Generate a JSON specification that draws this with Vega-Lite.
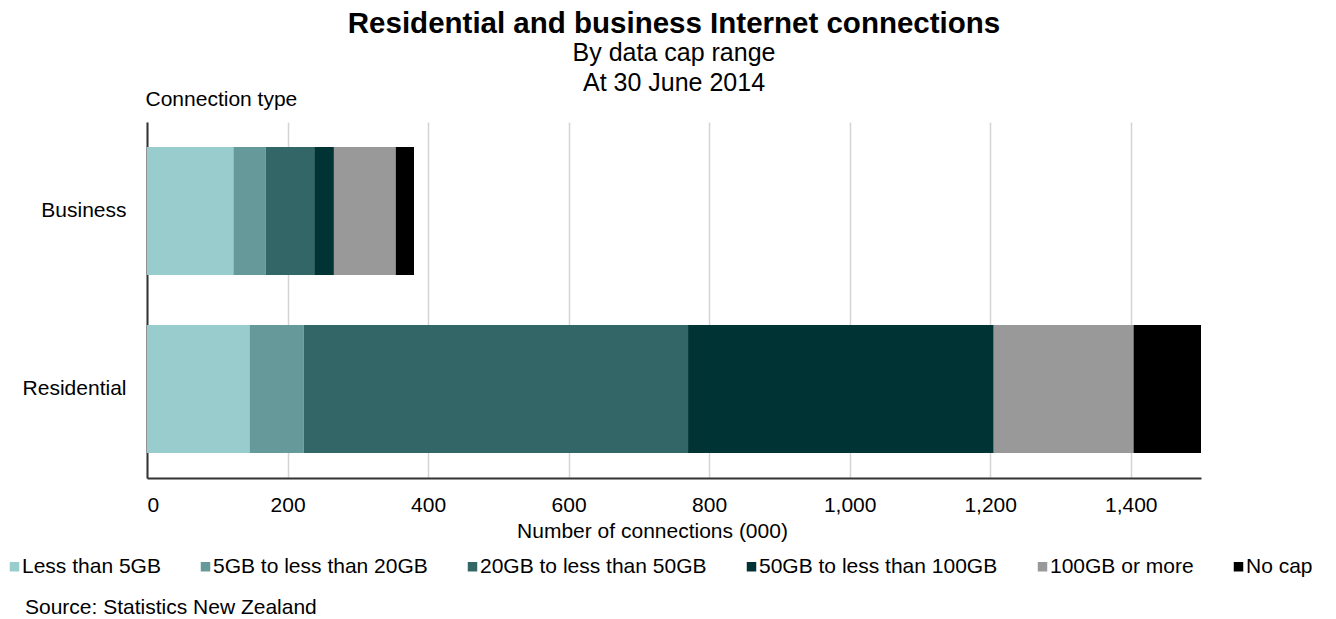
{
  "$schema": "https://vega.github.io/schema/vega-lite/v6.json",
  "width": 1054,
  "height": 356,
  "autosize": {"type": "none"},
  "padding": {"left": 147, "top": 122, "right": 135, "bottom": 141},
  "background": "white",
  "config": {"font": "Liberation Sans", "view": {"stroke": null}},
  "title": {
    "text": "Residential and business Internet connections",
    "subtitle": ["By data cap range", "At 30 June 2014"],
    "fontSize": 29.5,
    "fontWeight": "bold",
    "color": "black",
    "subtitleFontSize": 25,
    "subtitleColor": "black",
    "subtitleLineHeight": 30,
    "subtitlePadding": 2,
    "anchor": "middle",
    "offset": -9
  },
  "data": {
    "values": [
      {"type": "Business", "range": "Less than 5GB", "rank": 1, "value": 123},
      {"type": "Business", "range": "5GB to less than 20GB", "rank": 2, "value": 46},
      {"type": "Business", "range": "20GB to less than 50GB", "rank": 3, "value": 69},
      {"type": "Business", "range": "50GB to less than 100GB", "rank": 4, "value": 28},
      {"type": "Business", "range": "100GB or more", "rank": 5, "value": 88},
      {"type": "Business", "range": "No cap", "rank": 6, "value": 26},
      {"type": "Residential", "range": "Less than 5GB", "rank": 1, "value": 146},
      {"type": "Residential", "range": "5GB to less than 20GB", "rank": 2, "value": 77},
      {"type": "Residential", "range": "20GB to less than 50GB", "rank": 3, "value": 547},
      {"type": "Residential", "range": "50GB to less than 100GB", "rank": 4, "value": 435},
      {"type": "Residential", "range": "100GB or more", "rank": 5, "value": 199},
      {"type": "Residential", "range": "No cap", "rank": 6, "value": 96}
    ]
  },
  "mark": {"type": "bar"},
  "encoding": {
    "y": {
      "field": "type",
      "type": "nominal",
      "sort": ["Business", "Residential"],
      "scale": {"paddingInner": 0.28, "paddingOuter": 0.14},
      "axis": {
        "title": "Connection type",
        "titleAngle": 0,
        "titleAlign": "left",
        "titleBaseline": "bottom",
        "titleX": -2,
        "titleY": -13,
        "titleFontSize": 21,
        "titleFontWeight": "normal",
        "titleColor": "black",
        "titleLimit": 400,
        "labelFontSize": 21,
        "labelColor": "black",
        "labelPadding": 21,
        "labelLimit": 300,
        "ticks": false,
        "domainColor": "#333333",
        "domainWidth": 2
      }
    },
    "x": {
      "field": "value",
      "type": "quantitative",
      "stack": "zero",
      "scale": {"domain": [0, 1500], "nice": false},
      "axis": {
        "values": [0, 200, 400, 600, 800, 1000, 1200, 1400],
        "format": ",d",
        "title": "Number of connections (000)",
        "titleFontSize": 21,
        "titleFontWeight": "normal",
        "titleColor": "black",
        "titleLimit": 600,
        "titleX": 505,
        "titleY": 53,
        "titleBaseline": "middle",
        "labelFontSize": 21,
        "labelColor": "black",
        "labelPadding": 16,
        "ticks": false,
        "grid": true,
        "gridColor": "#d4d4d4",
        "gridWidth": 1.5,
        "domainColor": "#333333",
        "domainWidth": 2
      }
    },
    "color": {
      "field": "range",
      "type": "nominal",
      "scale": {
        "domain": ["Less than 5GB", "5GB to less than 20GB", "20GB to less than 50GB", "50GB to less than 100GB", "100GB or more", "No cap"],
        "range": ["#99cccc", "#669999", "#336666", "#003333", "#999999", "#000000"]
      },
      "legend": {
        "orient": "none",
        "direction": "horizontal",
        "legendX": -122,
        "legendY": 434,
        "symbolType": "square",
        "symbolSize": 90,
        "symbolStrokeWidth": 0,
        "symbolOffset": -21,
        "labelFontSize": 21,
        "labelColor": "black",
        "labelOffset": -3,
        "labelLimit": 400,
        "columnPadding": 39,
        "title": "Source: Statistics New Zealand",
        "titleOrient": "bottom",
        "titleFontSize": 21,
        "titleFontWeight": "normal",
        "titleColor": "black",
        "titleLimit": 600,
        "titlePadding": 20
      }
    },
    "order": {"field": "rank", "type": "quantitative"}
  }
}
